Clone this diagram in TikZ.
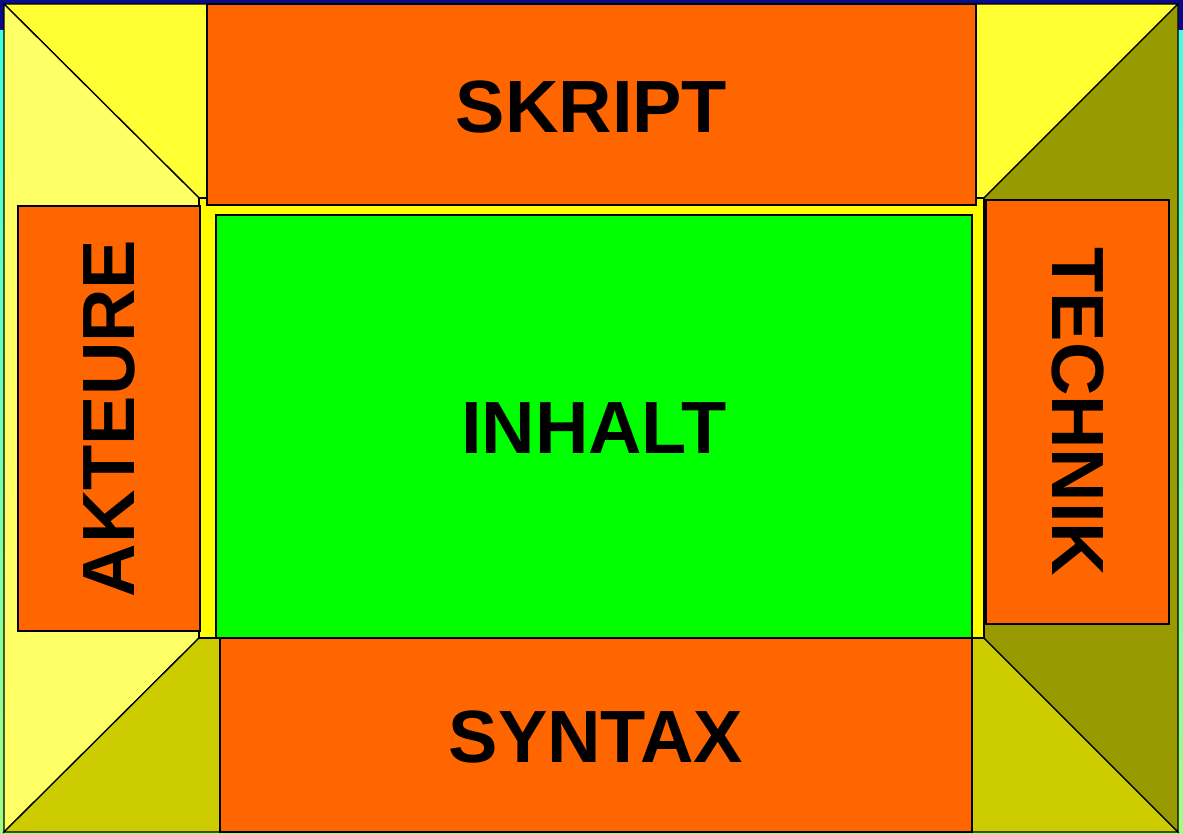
\documentclass[tikz,border=0pt]{standalone}
\usepackage{graphicx}
\usepackage{fontspec}
\setmainfont{Liberation Sans}
\definecolor{navyedge}{HTML}{0A0A8C}
\definecolor{cyanedge}{HTML}{40FFE0}
\definecolor{greenedge}{HTML}{40F050}
\definecolor{lightgreenedge}{HTML}{A0FF80}
\definecolor{topyellow}{HTML}{FFFF33}
\definecolor{leftyellow}{HTML}{FFFF66}
\definecolor{rightolive}{HTML}{999900}
\definecolor{bottomolive}{HTML}{CCCC00}
\definecolor{inneryellow}{HTML}{FFFF00}
\definecolor{boxorange}{HTML}{FF6600}
\definecolor{boxgreen}{HTML}{00FF00}
\newcommand{\labelfont}{\fontsize{74}{80}\selectfont\bfseries}
\newcommand{\lbl}[1]{\raisebox{-2pt}[\height][0pt]{#1}}
\begin{document}
\begin{tikzpicture}[x=1pt,y=-1pt,
  edgeline/.style={draw=black,line width=1.3pt,line join=miter},
  panel/.style={draw=black,line width=1.3pt,inner sep=0pt,outer sep=0pt,anchor=center,font=\labelfont,text=black},
  orangepanel/.style={panel,fill=boxorange}]
\useasboundingbox (0,0) rectangle (1183,833);
\fill[navyedge] (0,0) rectangle (1183,833);
\shade[top color=cyanedge,middle color=greenedge,bottom color=lightgreenedge] (0,30) rectangle (1183,833);
% frame corners
\coordinate (o1) at (4,4);
\coordinate (o2) at (1178,4);
\coordinate (o3) at (1178,832);
\coordinate (o4) at (4,832);
\coordinate (i1) at (199,198);
\coordinate (i2) at (984,198);
\coordinate (i3) at (984,638);
\coordinate (i4) at (199,638);
% trapezoids
\path[edgeline,fill=topyellow] (o1) -- (o2) -- (i2) -- (i1) -- cycle;
\path[edgeline,fill=leftyellow] (o1) -- (i1) -- (i4) -- (o4) -- cycle;
\path[edgeline,fill=bottomolive] (o4) -- (i4) -- (i3) -- (o3) -- cycle;
\path[edgeline,fill=rightolive] (o2) -- (o3) -- (i3) -- (i2) -- cycle;
% inner yellow frame
\node[panel,fill=inneryellow,minimum width=785,minimum height=440] (rahmen) at (591.5,418) {};
% boxes
\node[orangepanel,minimum width=769,minimum height=201] (skript) at (591.5,104.5) {\lbl{SKRIPT}};
\node[orangepanel,rotate=90,minimum width=425,minimum height=182] (akteure) at (109,418.5) {AKTEURE};
\node[orangepanel,rotate=-90,minimum width=424,minimum height=183] (technik) at (1077.5,412) {TECHNIK};
\node[orangepanel,minimum width=752,minimum height=194] (syntax) at (596,735) {\lbl{SYNTAX}};
\node[panel,fill=boxgreen,minimum width=756,minimum height=423] (inhalt) at (594,426.5) {\lbl{INHALT}};
\end{tikzpicture}
\end{document}
